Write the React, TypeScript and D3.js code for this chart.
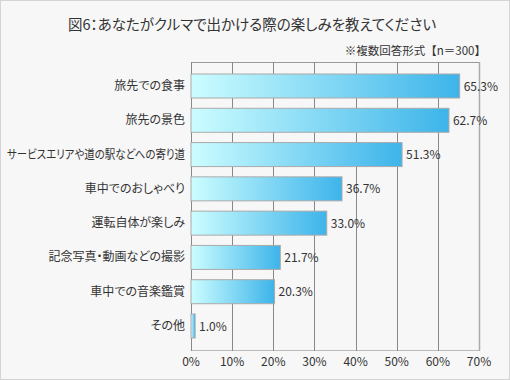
import React from "react";
import * as d3 from "d3";

const categories = [
  "旅先での食事",
  "旅先の景色",
  "サービスエリアや道の駅などへの寄り道",
  "車中でのおしゃべり",
  "運転自体が楽しみ",
  "記念写真・動画などの撮影",
  "車中での音楽鑑賞",
  "その他",
];
const values = [65.3, 62.7, 51.3, 36.7, 33.0, 21.7, 20.3, 1.0];
const ticks = [0, 10, 20, 30, 40, 50, 60, 70];
const title = "図6：あなたがクルマで出かける際の楽しみを教えてください";
const note = "※複数回答形式【n＝300】";

const W = 510;
const H = 380;
const FONT = "'Noto Sans CJK JP', 'Noto Sans', sans-serif";
const LABEL_RIGHT = 185;
const LABEL_MAX = 178;

function CatLabel({ text, y }: { text: string; y: number }) {
  const ref = React.useRef<SVGTextElement>(null);
  const [fit, setFit] = React.useState(false);
  React.useLayoutEffect(() => {
    if (ref.current && ref.current.getComputedTextLength() > LABEL_MAX) setFit(true);
  }, []);
  return (
    <text
      ref={ref}
      x={LABEL_RIGHT}
      y={y}
      textAnchor="end"
      fontSize={12}
      fill="#333"
      style={{ fontFeatureSettings: "'palt'" }}
      {...(fit ? { textLength: LABEL_MAX, lengthAdjust: "spacingAndGlyphs" } : {})}
    >
      {text}
    </text>
  );
}

export default function App() {
  const x = d3.scaleLinear().domain([0, 70]).range([191, 479]);
  const y = d3
    .scaleBand<string>()
    .domain(categories)
    .range([62, 350])
    .paddingInner(0.3)
    .paddingOuter(0.35);

  return (
    <svg
      width={W}
      height={H}
      style={{ position: "absolute", left: 0, top: 0 }}
      fontFamily={FONT}
    >
      <defs>
        <linearGradient id="barGrad" x1="0" y1="0" x2="1" y2="0">
          <stop offset="0%" stopColor="#ccfdff" />
          <stop offset="100%" stopColor="#3db4ea" />
        </linearGradient>
      </defs>
      <rect x={0.5} y={0.5} width={W - 1} height={H - 1} fill="#f7f7f7" stroke="#d4d4d4" />
      <text
        x={252}
        y={30}
        textAnchor="middle"
        fontSize={14.5}
        fill="#333"
        style={{ fontFeatureSettings: "'palt'" }}
      >
        {title}
      </text>
      <text x={486} y={55} textAnchor="end" fontSize={11.5} fill="#333">
        {note}
      </text>
      {/* plot frame */}
      <line x1={x(0)} x2={x(70)} y1={62.5} y2={62.5} stroke="#999" />
      <line x1={x(0)} x2={x(70)} y1={350.5} y2={350.5} stroke="#bbb" />
      {ticks.map((t) => (
        <g key={t}>
          <line
            x1={Math.round(x(t)) + 0.5}
            x2={Math.round(x(t)) + 0.5}
            y1={62}
            y2={351}
            stroke={t === 70 ? "#aaa" : "#888"}
            strokeWidth={t === 70 ? 1.5 : 1}
          />
          <text x={x(t)} y={366} textAnchor="middle" fontSize={12} fill="#333">
            {t}%
          </text>
        </g>
      ))}
      {categories.map((c, i) => (
        <g key={c}>
          <rect
            x={x(0)}
            y={y(c)!}
            width={x(values[i]) - x(0)}
            height={y.bandwidth()}
            fill="url(#barGrad)"
            stroke="#aaa"
            strokeWidth={1}
          />
          <CatLabel text={c} y={y(c)! + y.bandwidth() / 2 + 4} />
          <text
            x={x(values[i]) + 4}
            y={y(c)! + y.bandwidth() / 2 + 4.5}
            fontSize={12}
            fill="#333"
          >
            {values[i].toFixed(1)}%
          </text>
        </g>
      ))}
    </svg>
  );
}
